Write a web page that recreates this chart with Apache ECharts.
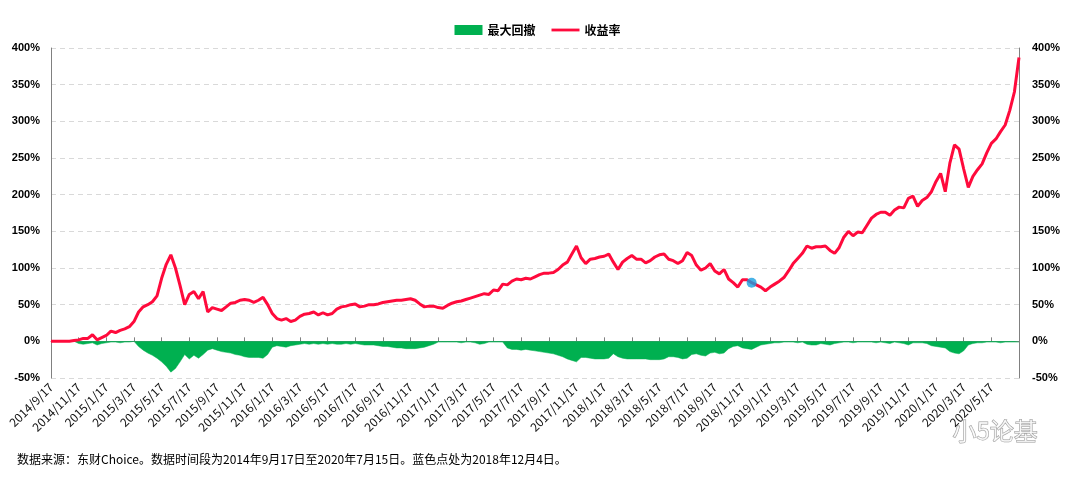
<!DOCTYPE html>
<html>
<head>
<meta charset="utf-8">
<script src="https://cdn.jsdelivr.net/npm/echarts@6/dist/echarts.min.js"></script>
<style>
  html, body { margin: 0; padding: 0; background: #fff; }
  #chart { width: 1075px; height: 480px; }
</style>
</head>
<body>
<div id="chart"></div>
<script>
// dates: 7th / 17th / 27th of each month, 2014/9/17 .. 2020/7/15
const allDates = [];
for (let k = 0; k < 71; k++) {
  const y = 2014 + Math.floor((8 + k) / 12);
  const m = (8 + k) % 12 + 1;
  [7, 17, 27].forEach(d => allDates.push(y + '/' + m + '/' + d));
}
const dates = allDates.slice(1, -2).concat(['2020/7/15']);

// 收益率 (%)
const returns = [
  0, 0, 0, 0, 0, 1, 2, 4, 4, 9,
  2, 5, 8, 14, 12, 15, 17, 20, 27, 40,
  47, 50, 54, 62, 86, 105, 118, 100, 76, 50,
  64, 68, 58, 68, 40, 46, 44, 42, 47, 52,
  53, 56, 57, 56, 53, 56, 60, 50, 38, 31,
  29, 31, 27, 29, 34, 37, 38, 40, 36, 39,
  36, 38, 44, 47, 48, 50, 51, 47, 48, 50,
  50, 51, 53, 54, 55, 56, 56, 57, 58, 56,
  51, 47, 48, 48, 46, 45, 49, 52, 54, 55,
  57, 59, 61, 63, 65, 64, 70, 69, 78, 77,
  82, 85, 84, 86, 85, 88, 91, 93, 93, 94,
  98, 104, 108, 119, 130, 114, 106, 112, 113, 115,
  116, 119, 108, 98, 108, 113, 117, 112, 112, 107,
  110, 115, 118, 119, 112, 110, 106, 110, 121, 117,
  104, 97, 100, 106, 96, 92, 98, 85, 80, 74,
  84, 84, 80, 77, 74, 69, 74, 78, 82, 87,
  96, 106, 113, 120, 130, 127, 129, 129, 130, 124,
  120, 128, 142, 150, 144, 149, 148, 158, 168, 173,
  176, 176, 172, 179, 183, 182, 195, 198, 184, 192,
  196, 204, 218, 229, 204, 243, 268, 262, 235, 210,
  225, 234, 242, 257, 270, 276, 286, 295, 315, 340, 387
];

// 最大回撤 (%)
const drawdown = [
  0, 0, 0, 0, 0, 0, -3, -4, -3, -2,
  -5, -3, -2, -1, -1, -2, -1, -1, 0, -7,
  -12, -16, -19, -23, -28, -34, -42, -37, -28, -18,
  -24, -19, -23, -18, -12, -10, -12, -14, -15, -16,
  -18, -19, -21, -22, -22, -22, -23, -18, -8, -6,
  -7, -8, -6, -5, -4, -3, -4, -3, -4, -3,
  -4, -3, -4, -4, -3, -4, -3, -4, -5, -5,
  -5, -6, -7, -7, -8, -9, -9, -10, -10, -10,
  -9, -8, -6, -4, -1, -1, -1, -1, -1, -2,
  -1, -1, -2, -4, -3, -1, -1, -1, -1, -9,
  -11, -11, -12, -11, -12, -13, -14, -15, -16, -17,
  -19, -21, -24, -26, -28, -22, -22, -23, -24, -24,
  -24, -23, -17, -21, -23, -24, -24, -24, -24, -24,
  -25, -25, -25, -24, -21, -21, -22, -24, -23, -18,
  -17, -19, -20, -16, -15, -17, -16, -10, -7, -6,
  -9, -10, -11, -8, -5, -4, -3, -2, -2, -1,
  -1, -1, -2, -1, -4, -5, -5, -3, -4, -5,
  -3, -2, -1, -1, -2, -1, -1, -1, -1, -2,
  -1, -2, -3, -1, -2, -3, -5, -2, -2, -2,
  -3, -6, -7, -8, -9, -14, -16, -17, -13, -5,
  -3, -2, -2, -1, -1, -1, -2, -1, -1, -1, -1
];

// 蓝色点 (2018/12/4)
const blueDot = [['2018/12/7', 80]];

const isLabelDate = (idx, val) => idx % 6 === 0 && /\/17$/.test(val);

const yLabel = {
  formatter: '{value}%',
  color: '#000',
  fontWeight: 'bold',
  fontSize: 11,
  fontFamily: 'Liberation Sans, Arial, sans-serif'
};

const option = {
  animation: false,
  backgroundColor: '#fff',
  grid: { left: 51, right: 56, top: 48, bottom: 102 },
  legend: {
    top: 19,
    left: 'center',
    itemWidth: 28,
    itemHeight: 10,
    itemGap: 16,
    textStyle: { fontWeight: 'bold', fontSize: 12, color: '#000', fontFamily: 'Noto Sans CJK SC' },
    data: [
      { name: '最大回撤', icon: 'rect' },
      { name: '收益率', icon: 'path://M0,0 L30,0 L30,3 L0,3 Z' }
    ]
  },
  xAxis: [
    {
      type: 'category',
      data: dates,
      boundaryGap: false,
      position: 'bottom',
      axisLine: { show: false, onZero: false },
      axisTick: { show: false },
      axisLabel: {
        interval: isLabelDate,
        rotate: 45,
        margin: 7,
        fontSize: 12,
        color: '#111',
        fontFamily: 'Noto Sans CJK SC'
      },
      splitLine: { show: false }
    },
    {
      type: 'category',
      data: dates,
      boundaryGap: false,
      position: 'bottom',
      axisLine: { show: true, onZero: true, lineStyle: { color: '#808080', width: 1 } },
      axisTick: { show: true, inside: true, length: 4, interval: isLabelDate, lineStyle: { color: '#808080' } },
      axisLabel: { show: false },
      splitLine: { show: false }
    }
  ],
  yAxis: [
    {
      type: 'value', min: -50, max: 400, interval: 50,
      axisLine: { show: true, lineStyle: { color: '#808080' } },
      axisTick: { show: false },
      axisLabel: Object.assign({ margin: 11 }, yLabel),
      splitLine: { show: true, lineStyle: { color: '#d9d9d9', type: [5, 4] } }
    },
    {
      type: 'value', min: -50, max: 400, interval: 50, position: 'right',
      axisLine: { show: true, lineStyle: { color: '#808080' } },
      axisTick: { show: false },
      axisLabel: Object.assign({ margin: 13 }, yLabel),
      splitLine: { show: false }
    }
  ],
  series: [
    {
      name: '最大回撤',
      type: 'line',
      data: drawdown,
      symbol: 'none',
      color: '#00b050',
      lineStyle: { width: 0.5, color: '#00b050' },
      areaStyle: { color: '#00b050', opacity: 1 },
      z: 2
    },
    {
      name: '收益率',
      type: 'line',
      data: returns,
      symbol: 'none',
      color: '#ff0a3c',
      lineStyle: { width: 3, color: '#ff0a3c' },
      z: 3
    },
    {
      name: '蓝色点',
      type: 'scatter',
      data: blueDot,
      symbolSize: 10,
      itemStyle: { color: '#1a9fe0' },
      z: 4
    }
  ],
  graphic: [
    {
      type: 'text',
      left: 17,
      top: 453,
      style: {
        text: '数据来源：东财Choice。数据时间段为2014年9月17日至2020年7月15日。蓝色点处为2018年12月4日。',
        fontSize: 12,
        fill: '#000',
        fontFamily: 'Noto Sans CJK SC'
      }
    },
    {
      type: 'text',
      left: 952,
      top: 418,
      style: {
        text: '小5论基',
        fontSize: 24,
        fill: 'rgba(255,255,255,0.7)',
        stroke: '#999',
        lineWidth: 1,
        fontFamily: 'Noto Sans CJK SC'
      }
    }
  ]
};

const chart = echarts.init(document.getElementById('chart'));
chart.setOption(option);
</script>
</body>
</html>
